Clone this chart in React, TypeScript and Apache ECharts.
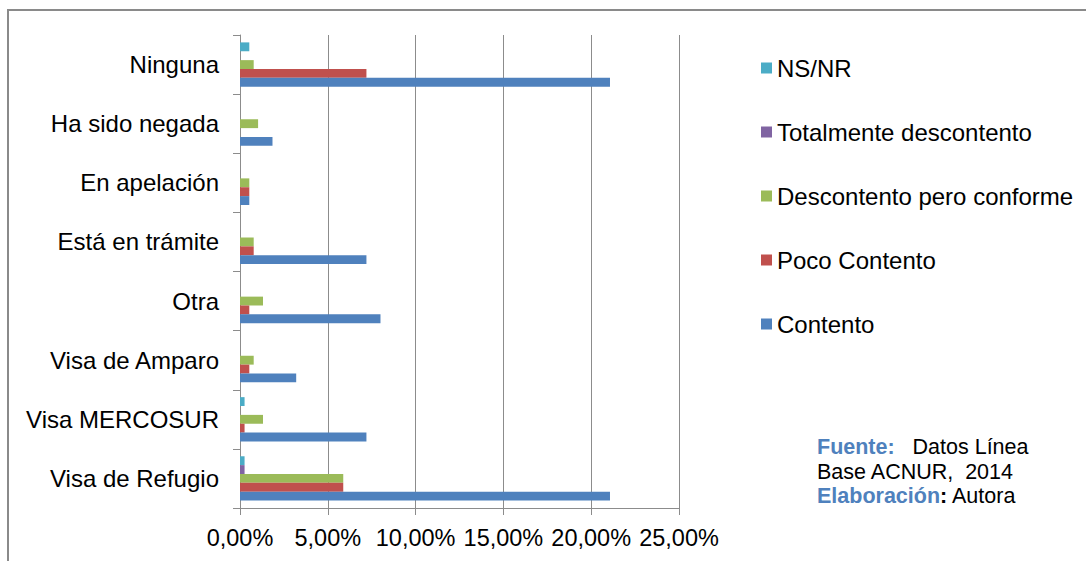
import React, { useEffect, useRef } from "react";
import * as echarts from "echarts";

const categories = [
  "Visa de Refugio",
  "Visa MERCOSUR",
  "Visa de Amparo",
  "Otra",
  "Está en trámite",
  "En apelación",
  "Ha sido negada",
  "Ninguna",
];
const contento = [21.07, 7.2, 3.2, 8.0, 7.2, 0.53, 1.85, 21.07];
const pocoContento = [5.88, 0.26, 0.53, 0.53, 0.78, 0.53, 0, 7.2];
const descontentoPero = [5.88, 1.31, 0.78, 1.31, 0.78, 0.53, 1.03, 0.78];
const totalmente = [0.26, 0, 0, 0, 0, 0, 0, 0];
const nsnr = [0.26, 0.26, 0, 0, 0, 0, 0, 0.53];
const xTicks = [0, 5, 10, 15, 20, 25];

// top-to-bottom order within each category
const seriesNames = [
  "NS/NR",
  "Totalmente descontento",
  "Descontento pero conforme",
  "Poco Contento",
  "Contento",
];
const seriesData = [nsnr, totalmente, descontentoPero, pocoContento, contento];
const colors = ["#4BACC6", "#8064A2", "#9BBB59", "#C0504D", "#4F81BD"];

const FONT = "'Liberation Sans', Arial, sans-serif";

export default function App() {
  const ref = useRef<HTMLDivElement>(null);
  useEffect(() => {
    if (!ref.current) return;
    const chart = echarts.init(ref.current, undefined, { renderer: "svg" });
    chart.setOption({
      animation: false,
      backgroundColor: "#ffffff",
      textStyle: { fontFamily: FONT },
      grid: { left: 240, top: 35, width: 439, height: 473, containLabel: false },
      xAxis: {
        type: "value",
        min: xTicks[0],
        max: xTicks[xTicks.length - 1],
        interval: 5,
        axisLine: { show: true, lineStyle: { color: "#8c8c8c", width: 1 } },
        axisTick: { show: true, length: 7, lineStyle: { color: "#8c8c8c" } },
        splitLine: { show: true, lineStyle: { color: "#8c8c8c", width: 1 } },
        axisLabel: {
          margin: 18,
          fontSize: 23.5,
          color: "#000",
          fontFamily: FONT,
          formatter: (v: number) => v.toFixed(2).replace(".", ",") + "%",
        },
      },
      yAxis: {
        type: "category",
        data: categories,
        axisLine: { show: true, lineStyle: { color: "#8c8c8c", width: 1 } },
        axisTick: { show: true, length: 7, lineStyle: { color: "#8c8c8c" } },
        axisLabel: { margin: 21, fontSize: 24, color: "#000", fontFamily: FONT },
      },
      legend: {
        orient: "vertical",
        left: 756,
        top: 51,
        itemWidth: 11,
        itemHeight: 11,
        itemGap: 40,
        icon: "rect",
        data: seriesNames,
        textStyle: { fontSize: 24, color: "#000", fontFamily: FONT, lineHeight: 24 },
      },
      series: seriesNames.map((name, i) => ({
        name,
        type: "bar",
        data: seriesData[i],
        barGap: "0%",
        barCategoryGap: "25%",
        itemStyle: { color: colors[i] },
      })),
      graphic: [
        {
          type: "rect",
          shape: { x: 8, y: 10, width: 1200, height: 700 },
          style: { fill: "none", stroke: "#8a8a8a", lineWidth: 2 },
          silent: true,
        },
        {
          type: "text",
          left: 817,
          top: 435,
          style: {
            text: "{b|Fuente:}   Datos Línea\nBase ACNUR,  2014\n{b|Elaboración}{k|:} Autora",
            fontSize: 21.5,
            lineHeight: 24.5,
            fill: "#000",
            fontFamily: FONT,
            rich: {
              b: { fontSize: 21.5, fontWeight: "bold", fill: "#4F81BD", fontFamily: FONT, lineHeight: 24.5 },
              k: { fontSize: 21.5, fontWeight: "bold", fill: "#000", fontFamily: FONT, lineHeight: 24.5 },
            },
          },
        },
      ],
    });
    return () => chart.dispose();
  }, []);
  return (
    <div
      ref={ref}
      style={{ position: "fixed", left: 0, top: 0, width: 1086, height: 561 }}
    />
  );
}
